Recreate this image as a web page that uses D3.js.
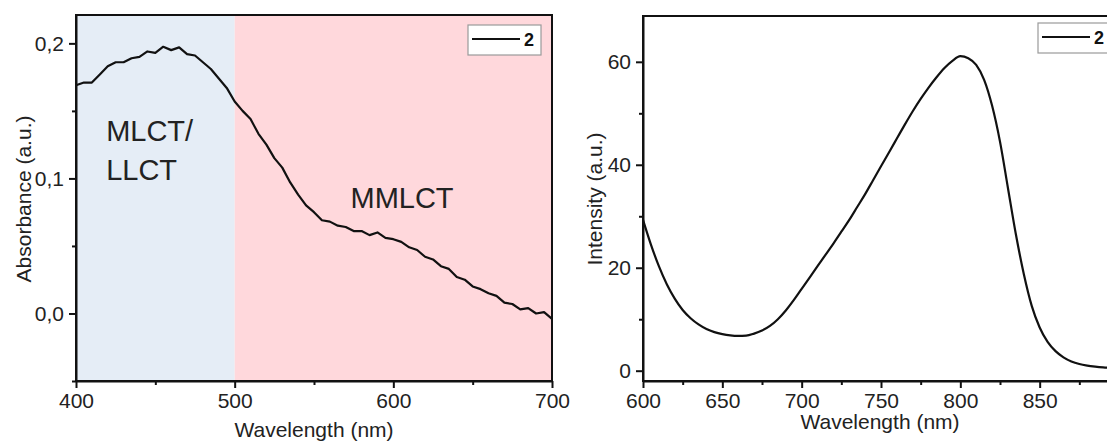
<!DOCTYPE html>
<html>
<head>
<meta charset="utf-8">
<script src="https://cdn.jsdelivr.net/npm/d3@7"></script>
<style>
body { margin: 0; background: #fff; }
svg { display: block; font-family: Arial, "Liberation Sans", sans-serif; }
.axis path, .axis line { stroke: #111; stroke-width: 2; }
.axis text { font-size: 21px; fill: #222; }
</style>
</head>
<body>
<svg id="chart" width="1107" height="445"></svg>
<script>
// absorbance spectrum (left)
var abs_wl = [400,405,410,415,420,425,430,435,440,445,450,455,460,465,470,475,480,485,490,495,
    500,505,510,515,520,525,530,535,540,545,550,555,560,565,570,575,580,585,590,595,
    600,605,610,615,620,625,630,635,640,645,650,655,660,665,670,675,680,685,690,695,700];
var abs_val = [0.169,0.171,0.171,0.177,0.183,0.186,0.186,0.189,0.190,0.194,0.193,0.1975,0.195,0.197,0.192,0.191,0.186,0.181,0.174,0.167,
    0.157,0.150,0.144,0.133,0.125,0.115,0.108,0.097,0.088,0.080,0.075,0.069,0.068,0.065,0.064,0.061,0.061,0.058,0.060,0.056,
    0.055,0.053,0.049,0.047,0.042,0.040,0.035,0.033,0.027,0.025,0.020,0.018,0.015,0.013,0.008,0.007,0.003,0.004,0.000,0.001,-0.004];
var regions = [{from:400, to:500, color:"#e5edf6", label:["MLCT/","LLCT"], at:[419,0.128]},
               {from:500, to:700, color:"#ffd8dc", label:["MMLCT"], at:[573,0.078]}];

// emission spectrum (right)
var em_wl = [600,605,610,615,620,625,630,635,640,645,650,655,660,665,670,675,680,685,690,695,
    700,705,710,715,720,725,730,735,740,745,750,755,760,765,770,775,780,785,790,795,
    800,805,810,815,820,825,830,835,840,845,850,855,860,865,870,875,880,885,890,895,900];
var em_val = [29.3,24.5,20.3,16.8,14.0,11.8,10.2,9.0,8.1,7.5,7.1,6.85,6.75,6.8,7.2,7.8,8.7,10.0,11.7,13.7,
    15.9,18.1,20.3,22.5,24.7,27.0,29.3,31.8,34.3,37.0,39.7,42.4,45.1,47.8,50.4,52.8,55.0,57.0,58.8,60.2,
    61.1,60.7,59.4,56.5,51.5,44.5,35.5,26.5,18.8,12.6,8.4,5.6,3.8,2.6,1.8,1.3,1.0,0.8,0.65,0.55,0.5];

var legend_name = "2";

var svg = d3.select("#chart");
var comma = d3.formatLocale({decimal: ",", thousands: ".", grouping: [3], currency: ["", ""]}).format(".1f");

function draw_panel(opt) {
    var x = d3.scaleLinear().domain(opt.xdom).range([opt.left, opt.right]);
    var y = d3.scaleLinear().domain(opt.ydom).range([opt.bottom, opt.top]);
    var g = svg.append("g");

    if (opt.regions) {
        opt.regions.forEach(function(r) {
            g.append("rect")
                .attr("x", x(r.from)).attr("y", opt.top)
                .attr("width", x(r.to) - x(r.from)).attr("height", opt.bottom - opt.top)
                .attr("fill", r.color);
            var t = g.append("text")
                .attr("font-size", 29).attr("fill", "#222");
            r.label.forEach(function(s, i) {
                t.append("tspan").attr("x", x(r.at[0])).attr("y", y(r.at[1]) + i * 39).text(s);
            });
        });
    }

    // minor ticks
    g.append("g").attr("class", "axis")
        .attr("transform", "translate(0," + opt.bottom + ")")
        .call(d3.axisBottom(x).tickValues(opt.xminor).tickSize(4).tickFormat(""))
        .select(".domain").remove();
    g.append("g").attr("class", "axis")
        .attr("transform", "translate(" + opt.left + ",0)")
        .call(d3.axisLeft(y).tickValues(opt.yminor).tickSize(4).tickFormat(""))
        .select(".domain").remove();

    g.append("g").attr("class", "axis")
        .attr("transform", "translate(0," + opt.bottom + ")")
        .call(d3.axisBottom(x).tickValues(opt.xticks).tickSize(7).tickSizeOuter(0).tickPadding(5));
    g.append("g").attr("class", "axis")
        .attr("transform", "translate(" + opt.left + ",0)")
        .call(d3.axisLeft(y).tickValues(opt.yticks).tickSize(7).tickSizeOuter(0).tickPadding(5).tickFormat(opt.yfmt));

    var line = d3.line()
        .x(function(d, i) { return x(opt.wl[i]); })
        .y(function(d) { return y(d); })
        .curve(opt.curve);
    g.append("path").datum(opt.val)
        .attr("d", line)
        .attr("fill", "none").attr("stroke", "#111").attr("stroke-width", 2.2)
        .attr("stroke-linejoin", "round");

    // frame
    g.append("rect")
        .attr("x", opt.left).attr("y", opt.top)
        .attr("width", opt.right - opt.left).attr("height", opt.bottom - opt.top)
        .attr("fill", "none").attr("stroke", "#111").attr("stroke-width", 2);

    // legend
    var lg = g.append("g").attr("transform", "translate(" + opt.legend[0] + "," + opt.legend[1] + ")");
    lg.append("rect").attr("x", 0).attr("y", 0).attr("width", 73).attr("height", 30)
        .attr("fill", "#fff").attr("stroke", "#9a9a9a").attr("stroke-width", 1.2);
    lg.append("line").attr("x1", 4).attr("x2", 52).attr("y1", 14).attr("y2", 14)
        .attr("stroke", "#111").attr("stroke-width", 2.2);
    lg.append("text").attr("x", 56).attr("y", 21).attr("font-size", 18).attr("font-weight", "bold")
        .attr("fill", "#111").text(legend_name);

    g.append("text")
        .attr("transform", "translate(" + opt.ylab[0] + "," + opt.ylab[1] + ") rotate(-90)")
        .attr("text-anchor", "middle").attr("font-size", 21).attr("fill", "#222")
        .text(opt.ytitle);
    g.append("text")
        .attr("x", opt.xlab[0]).attr("y", opt.xlab[1])
        .attr("text-anchor", "middle").attr("font-size", 21).attr("fill", "#222")
        .text("Wavelength (nm)");
}

draw_panel({
    left: 76, right: 552, top: 15, bottom: 381,
    xdom: [400, 700], ydom: [-0.05, 0.221],
    xticks: [400, 500, 600, 700], xminor: [450, 550, 650],
    yticks: [0, 0.1, 0.2], yminor: [-0.05, 0.05, 0.15],
    yfmt: comma, curve: d3.curveLinear,
    wl: abs_wl, val: abs_val, regions: regions,
    legend: [468, 25],
    ytitle: "Absorbance (a.u.)", ylab: [31, 199], xlab: [314, 437]
});

draw_panel({
    left: 643, right: 1119, top: 16, bottom: 381,
    xdom: [600, 900], ydom: [-2, 68.9],
    xticks: [600, 650, 700, 750, 800, 850], xminor: [625, 675, 725, 775, 825, 875],
    yfmt: d3.format("d"), curve: d3.curveMonotoneX,
    yticks: [0, 20, 40, 60], yminor: [10, 30, 50],
    wl: em_wl, val: em_val, regions: null,
    legend: [1038, 23],
    ytitle: "Intensity (a.u.)", ylab: [602, 199], xlab: [880, 429]
});
</script>
</body>
</html>
